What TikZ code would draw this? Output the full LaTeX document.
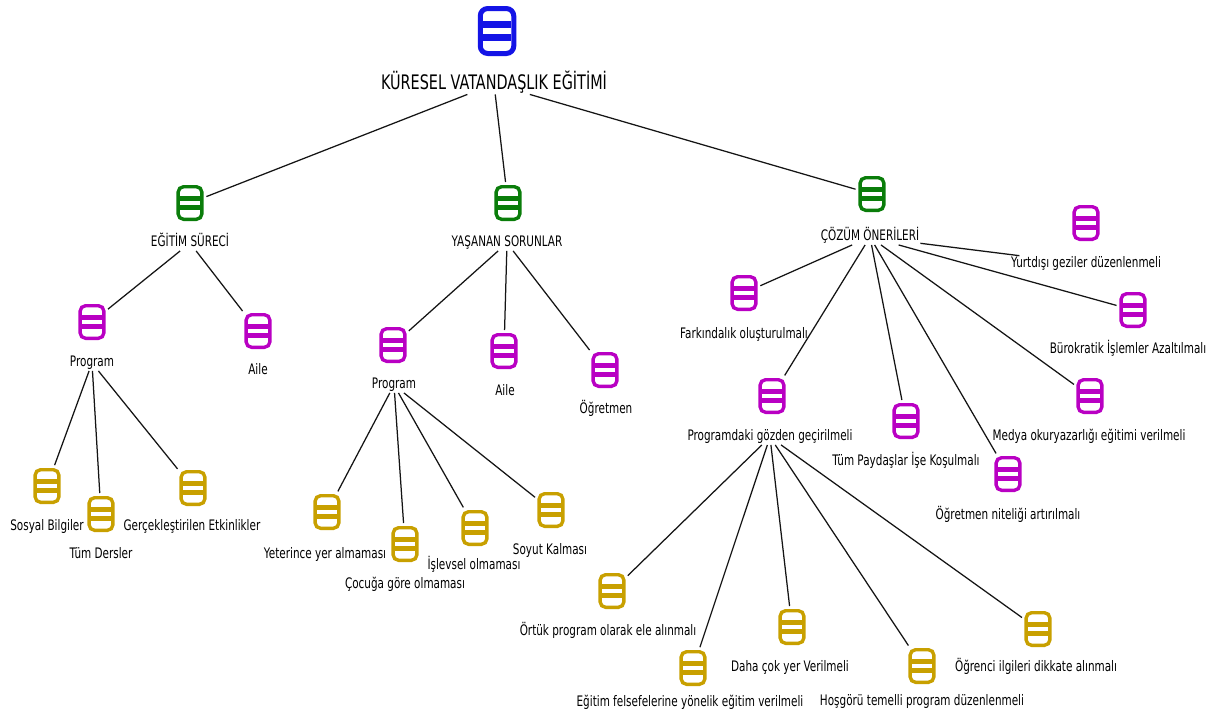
\documentclass[tikz,border=0pt]{standalone}
\usepackage{fontspec}
\setmainfont{DejaVu Sans}[FakeStretch=0.72]
\definecolor{cblue}{RGB}{20,20,230}
\definecolor{cgreen}{RGB}{10,125,10}
\definecolor{cmag}{RGB}{185,0,195}
\definecolor{cgold}{RGB}{200,160,0}
\definecolor{cline}{RGB}{20,20,20}
\begin{document}
\begin{tikzpicture}[x=1pt,y=-1pt,
  ico/.style={draw=#1, line width=3.4pt, rounded corners=5.5pt,
    minimum width=23.8pt, minimum height=32.6pt, inner sep=0pt, fill=white,
    path picture={
      \fill[#1, sharp corners] ([xshift=1.8pt,yshift=2.4pt]path picture bounding box.west) rectangle ([xshift=-1.8pt,yshift=7.4pt]path picture bounding box.east);
      \fill[#1, sharp corners] ([xshift=1.8pt,yshift=-2.4pt]path picture bounding box.west) rectangle ([xshift=-1.8pt,yshift=-7.4pt]path picture bounding box.east);}},
  bigico/.style={draw=#1, line width=5pt, rounded corners=7.5pt,
    minimum width=33.5pt, minimum height=45pt, inner sep=0pt, fill=white,
    path picture={
      \fill[#1, sharp corners] ([xshift=2.6pt,yshift=3.3pt]path picture bounding box.west) rectangle ([xshift=-2.6pt,yshift=10.3pt]path picture bounding box.east);
      \fill[#1, sharp corners] ([xshift=2.6pt,yshift=-3.3pt]path picture bounding box.west) rectangle ([xshift=-2.6pt,yshift=-10.3pt]path picture bounding box.east);}},
  lab/.style={inner sep=1pt, text height=10.5pt, text depth=3pt, text=black,
    font=\fontsize{14.5}{16}\selectfont},
  biglab/.style={inner sep=1pt, text height=14.5pt, text depth=4pt, text=black,
    font=\fontsize{20}{22}\selectfont},
  edge/.style={draw=cline, line width=1.25pt, shorten >=3pt}
]
\useasboundingbox (0,0) rectangle (1216,720);
\fill[white] (0,0) rectangle (1216,720);

% root
\node[bigico=cblue] (r) at (497,31) {};
\node[biglab] (rl) at (494,84) {KÜRESEL VATANDAŞLIK EĞİTİMİ};

% level 1
\node[ico=cgreen] (e) at (190,203) {};
\node[lab] (el) at (190,243) {EĞİTİM SÜRECİ};
\node[ico=cgreen] (y) at (508,203) {};
\node[lab] (yl) at (507,243) {YAŞANAN SORUNLAR};
\node[ico=cgreen] (c) at (872,194) {};
\node[lab] (cl) at (870,237) {ÇÖZÜM ÖNERİLERİ};

% under EĞİTİM SÜRECİ
\node[ico=cmag] (ep) at (92,322) {};
\node[lab] (epl) at (92,363) {Program};
\node[ico=cmag] (ea) at (258,331) {};
\node[lab] (eal) at (258,371) {Aile};

\node[ico=cgold] (es) at (47,486) {};
\node[lab] (esl) at (47,527) {Sosyal Bilgiler};
\node[ico=cgold] (et) at (101,514) {};
\node[lab] (etl) at (101,555) {Tüm Dersler};
\node[ico=cgold] (eg) at (193,488) {};
\node[lab] (egl) at (192,527) {Gerçekleştirilen Etkinlikler};

% under YAŞANAN SORUNLAR
\node[ico=cmag] (yp) at (393,345) {};
\node[lab] (ypl) at (394,385) {Program};
\node[ico=cmag] (ya) at (504,351) {};
\node[lab] (yal) at (505,392) {Aile};
\node[ico=cmag] (yo) at (605,370) {};
\node[lab] (yol) at (606,410) {Öğretmen};

\node[ico=cgold] (ya1) at (327,512) {};
\node[lab] (ya1l) at (325,555) {Yeterince yer almaması};
\node[ico=cgold] (ya2) at (405,544) {};
\node[lab] (ya2l) at (405,585) {Çocuğa göre olmaması};
\node[ico=cgold] (ya3) at (475,528) {};
\node[lab] (ya3l) at (474,566) {İşlevsel olmaması};
\node[ico=cgold] (ya4) at (551,510) {};
\node[lab] (ya4l) at (550,551) {Soyut Kalması};

% under ÇÖZÜM ÖNERİLERİ
\node[ico=cmag] (c1) at (1086,223) {};
\node[lab] (c1l) at (1086,264) {Yurtdışı geziler düzenlenmeli};
\node[ico=cmag] (c2) at (744,293) {};
\node[lab] (c2l) at (744,335) {Farkındalık oluşturulmalı};
\node[ico=cmag] (c3) at (1133,310) {};
\node[lab] (c3l) at (1128,350) {Bürokratik İşlemler Azaltılmalı};
\node[ico=cmag] (c4) at (772,396) {};
\node[lab] (c4l) at (770,437) {Programdaki gözden geçirilmeli};
\node[ico=cmag] (c5) at (906,421) {};
\node[lab] (c5l) at (906,462) {Tüm Paydaşlar İşe Koşulmalı};
\node[ico=cmag] (c6) at (1090,396) {};
\node[lab] (c6l) at (1089,437) {Medya okuryazarlığı eğitimi verilmeli};
\node[ico=cmag] (c7) at (1008,474) {};
\node[lab] (c7l) at (1008,516) {Öğretmen niteliği artırılmalı};

\node[ico=cgold] (p1) at (612,591) {};
\node[lab] (p1l) at (608,632) {Örtük program olarak ele alınmalı};
\node[ico=cgold] (p2) at (693,668) {};
\node[lab] (p2l) at (690,703) {Eğitim felsefelerine yönelik eğitim verilmeli};
\node[ico=cgold] (p3) at (792,627) {};
\node[lab] (p3l) at (790,668) {Daha çok yer Verilmeli};
\node[ico=cgold] (p4) at (922,666) {};
\node[lab] (p4l) at (922,702) {Hoşgörü temelli program düzenlenmeli};
\node[ico=cgold] (p5) at (1038,629) {};
\node[lab] (p5l) at (1036,668) {Öğrenci ilgileri dikkate alınmalı};

% connectors
\draw[edge] (rl) -- (e);
\draw[edge] (rl) -- (y);
\draw[edge] (rl) -- (c);

\draw[edge] (el) -- (ep);
\draw[edge] (el) -- (ea);
\draw[edge] (epl) -- (es);
\draw[edge] (epl) -- (et);
\draw[edge] (epl) -- (eg);

\draw[edge] (yl) -- (yp);
\draw[edge] (yl) -- (ya);
\draw[edge] (yl) -- (yo);
\draw[edge] (ypl) -- (ya1);
\draw[edge] (ypl) -- (ya2);
\draw[edge] (ypl) -- (ya3);
\draw[edge] (ypl) -- (ya4);

\draw[edge] (cl) -- (c1l);
\draw[edge] (cl) -- (c2);
\draw[edge] (cl) -- (c3);
\draw[edge] (cl) -- (c4);
\draw[edge] (cl) -- (c5);
\draw[edge] (cl) -- (c6);
\draw[edge] (cl) -- (c7);

\draw[edge] (c4l) -- (p1);
\draw[edge] (c4l) -- (p2);
\draw[edge] (c4l) -- (p3);
\draw[edge] (c4l) -- (p4);
\draw[edge] (c4l) -- (p5);
\end{tikzpicture}
\end{document}
